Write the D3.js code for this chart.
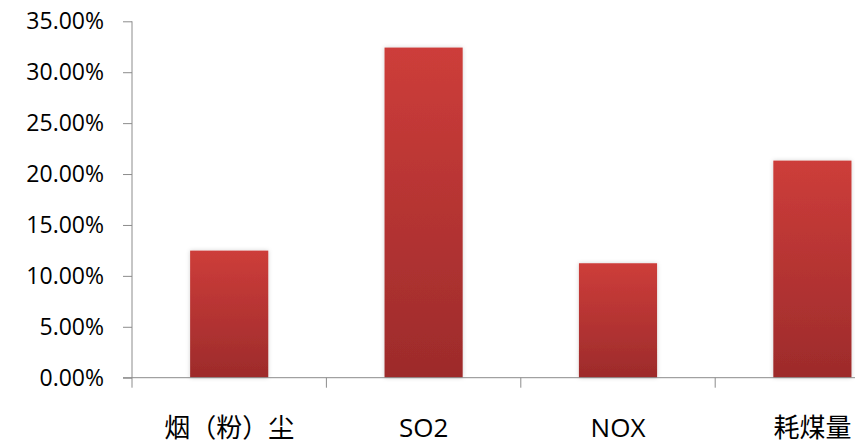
<!DOCTYPE html>
<html>
<head>
<meta charset="utf-8">
<script src="https://cdn.jsdelivr.net/npm/d3@7"></script>
<style>
  body { margin: 0; background: #fff; }
  svg text { font-family: "Open Sans", "Noto Sans CJK SC", sans-serif; fill: #000; }
</style>
</head>
<body>
<div id="chart"></div>
<script>
const categories = ["烟（粉）尘", "SO2", "NOX", "耗煤量"];
const values = [0.1248, 0.3242, 0.1124, 0.2132];
const yTicks = [0, 0.05, 0.10, 0.15, 0.20, 0.25, 0.30, 0.35];

const width = 855, height = 444;
const x0 = 132, bandW = 194.4;

const svg = d3.select("#chart").append("svg")
  .attr("width", width)
  .attr("height", height);

// gradient for the bars
const defs = svg.append("defs");
const grad = defs.append("linearGradient")
  .attr("id", "barGrad")
  .attr("x1", 0).attr("y1", 0).attr("x2", 0).attr("y2", 1);
grad.append("stop").attr("offset", "0%").attr("stop-color", "#cd3d3a");
grad.append("stop").attr("offset", "100%").attr("stop-color", "#9d2b2b");

const shadow = defs.append("filter").attr("id", "shadow")
  .attr("x", "-20%").attr("y", "-20%").attr("width", "140%").attr("height", "140%");
shadow.append("feDropShadow")
  .attr("dx", 0).attr("dy", 0).attr("stdDeviation", 2)
  .attr("flood-color", "#000").attr("flood-opacity", 0.18);

const xScale = d3.scaleBand()
  .domain(categories)
  .range([x0, x0 + bandW * categories.length]);

const yScale = d3.scaleLinear()
  .domain([0, 0.35])
  .range([377.7, 21.3]);

// bars
const barW = xScale.bandwidth() * 0.402;
svg.append("g").selectAll("rect")
  .data(values)
  .enter()
  .append("rect")
  .attr("x", (d, i) => xScale(categories[i]) + (xScale.bandwidth() - barW) / 2)
  .attr("y", d => yScale(d))
  .attr("width", barW)
  .attr("height", d => yScale(0) - yScale(d))
  .attr("fill", "url(#barGrad)")
  .attr("filter", "url(#shadow)");

// y axis
const yAxis = d3.axisLeft(yScale)
  .tickValues(yTicks)
  .tickSize(9)
  .tickPadding(19)
  .tickFormat(d3.format(".2%"));
const gy = svg.append("g")
  .attr("transform", "translate(" + x0 + ",0)")
  .call(yAxis);
gy.select(".domain").attr("stroke", "#8c8c8c").attr("d", "M0," + yScale(0.35) + "V" + yScale(0));
gy.selectAll(".tick line").attr("stroke", "#8c8c8c");
gy.selectAll(".tick text").style("font-size", "23px");

// x axis
const xTickPos = d3.range(categories.length + 1).map(i => x0 + i * bandW);
const gx = svg.append("g");
gx.append("line")
  .attr("x1", x0 - 9).attr("x2", width)
  .attr("y1", yScale(0)).attr("y2", yScale(0))
  .attr("stroke", "#8c8c8c");
gx.selectAll(".xt")
  .data(xTickPos)
  .enter()
  .append("line")
  .attr("x1", d => d).attr("x2", d => d)
  .attr("y1", yScale(0)).attr("y2", yScale(0) + 10)
  .attr("stroke", "#8c8c8c");
gx.selectAll("text")
  .data(categories)
  .enter()
  .append("text")
  .attr("x", d => xScale(d) + xScale.bandwidth() / 2)
  .attr("y", 437)
  .attr("text-anchor", "middle")
  .style("font-size", "26px")
  .text(d => d);
</script>
</body>
</html>
